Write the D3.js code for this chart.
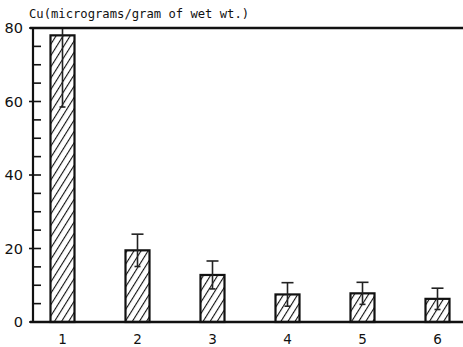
<!DOCTYPE html>
<html>
<head>
<meta charset="utf-8">
<script src="https://cdn.jsdelivr.net/npm/d3@7"></script>
<style>
  html, body { margin: 0; padding: 0; background: #fff; }
  svg { display: block; }
</style>
</head>
<body>
<div id="chart"></div>
<script>
// data
const samples = ["1", "2", "3", "4", "5", "6"];
const cuMean = [78, 19.5, 12.8, 7.5, 7.8, 6.3];
const cuSd = [19.5, 4.4, 3.8, 3.2, 3.0, 2.9];
const yTicks = [0, 20, 40, 60, 80];
const yMinor = d3.range(0, 81, 5);
const yTitle = "Cu(micrograms/gram of wet wt.)";

const W = 463, H = 347;
const svg = d3.select("#chart").append("svg")
    .attr("width", W)
    .attr("height", H);

const defs = svg.append("defs");
const pat = defs.append("pattern")
    .attr("id", "hatch")
    .attr("patternUnits", "userSpaceOnUse")
    .attr("width", 6)
    .attr("height", 6)
    .attr("patternTransform", "rotate(32)");
pat.append("line")
    .attr("x1", 0).attr("y1", 0)
    .attr("x2", 0).attr("y2", 6)
    .attr("stroke", "#111")
    .attr("stroke-width", 2.2);

const x = d3.scaleBand()
    .domain(samples)
    .range([25, 475])
    .paddingInner(0.68)
    .paddingOuter(0.34);

const y = d3.scaleLinear()
    .domain([0, 80])
    .range([322, 28]);

const g = svg.append("g");

// bars
g.selectAll("rect.bar")
    .data(samples)
    .enter()
    .append("rect")
    .attr("class", "bar")
    .attr("x", d => x(d))
    .attr("width", x.bandwidth())
    .attr("y", (d, i) => y(cuMean[i]))
    .attr("height", (d, i) => y(0) - y(cuMean[i]))
    .attr("fill", "url(#hatch)")
    .attr("stroke", "#111")
    .attr("stroke-width", 2.2);

// error bars (clipped at the top of the frame)
const err = g.selectAll("g.err")
    .data(samples)
    .enter()
    .append("g")
    .attr("class", "err")
    .attr("stroke", "#222")
    .attr("stroke-width", 1.6);

const cx = d => x(d) + x.bandwidth() / 2;
const hi = (d, i) => y(Math.min(80, cuMean[i] + cuSd[i]));
const lo = (d, i) => y(cuMean[i] - cuSd[i]);

err.append("line")
    .attr("x1", cx).attr("x2", cx)
    .attr("y1", hi).attr("y2", lo);
err.filter((d, i) => cuMean[i] + cuSd[i] <= 80)
    .append("line")
    .attr("x1", d => cx(d) - 6).attr("x2", d => cx(d) + 6)
    .attr("y1", (d) => hi(d, samples.indexOf(d)))
    .attr("y2", (d) => hi(d, samples.indexOf(d)));
err.append("line")
    .attr("x1", d => cx(d) - 3).attr("x2", d => cx(d) + 3)
    .attr("y1", d => lo(d, samples.indexOf(d)))
    .attr("y2", d => lo(d, samples.indexOf(d)));

// frame: left axis, top line, bottom line
g.append("line")
    .attr("x1", 33).attr("x2", 33)
    .attr("y1", y(80)).attr("y2", y(0))
    .attr("stroke", "#111").attr("stroke-width", 2.2);
g.append("line")
    .attr("x1", 30).attr("x2", W)
    .attr("y1", y(80)).attr("y2", y(80))
    .attr("stroke", "#111").attr("stroke-width", 2.4);
g.append("line")
    .attr("x1", 30).attr("x2", W)
    .attr("y1", y(0)).attr("y2", y(0))
    .attr("stroke", "#111").attr("stroke-width", 2.4);

// y ticks
g.selectAll("line.minor")
    .data(yMinor)
    .enter()
    .append("line")
    .attr("class", "minor")
    .attr("x1", d => yTicks.includes(d) ? 29 : 33)
    .attr("x2", 41)
    .attr("y1", d => y(d)).attr("y2", d => y(d))
    .attr("stroke", "#111")
    .attr("stroke-width", 1.6);

g.selectAll("text.ytick")
    .data(yTicks)
    .enter()
    .append("text")
    .attr("class", "ytick")
    .attr("x", 23)
    .attr("y", d => y(d))
    .attr("dy", "0.36em")
    .attr("text-anchor", "end")
    .attr("font-family", "DejaVu Sans")
    .attr("font-size", 14.5)
    .attr("fill", "#111")
    .text(d => d);

// x labels
g.selectAll("text.xtick")
    .data(samples)
    .enter()
    .append("text")
    .attr("class", "xtick")
    .attr("x", cx)
    .attr("y", 344)
    .attr("text-anchor", "middle")
    .attr("font-family", "DejaVu Sans")
    .attr("font-size", 13.5)
    .attr("fill", "#111")
    .text(d => d);

// axis title
svg.append("text")
    .attr("x", 29)
    .attr("y", 18)
    .attr("font-family", "DejaVu Sans Mono")
    .attr("font-size", 12.2)
    .attr("fill", "#111")
    .text(yTitle);
</script>
</body>
</html>
